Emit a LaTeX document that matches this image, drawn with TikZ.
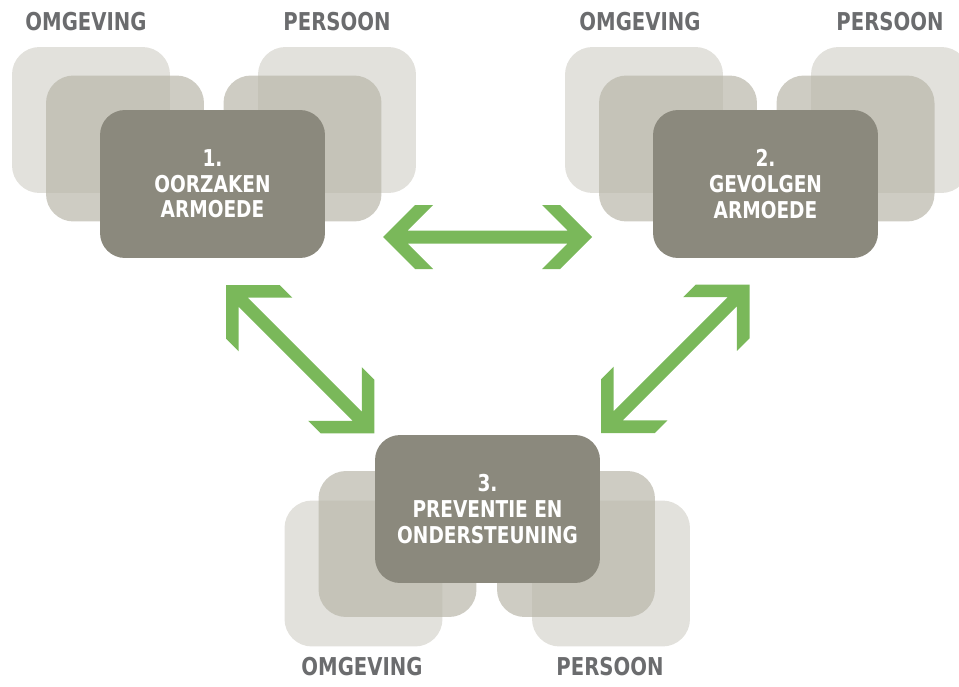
\documentclass[tikz,border=0pt]{standalone}
\usepackage{fontspec}
\newfontfamily\condfont[FakeStretch=0.8]{DejaVu Sans}
\usetikzlibrary{calc, positioning}
\definecolor{paleGray}{HTML}{E2E1DC}
\definecolor{midGray}{HTML}{B9B7AA}
\definecolor{darkGray}{HTML}{8B897D}
\definecolor{labelGray}{HTML}{6B6C6E}
\definecolor{leafGreen}{HTML}{7AB85A}
\tikzset{
  backbox/.style={rectangle, rounded corners=0.55cm, fill=paleGray,
    minimum width=3.16cm, minimum height=2.92cm},
  midbox/.style={backbox, fill=midGray, fill opacity=0.7},
  mainbox/.style={rectangle, rounded corners=0.5cm, fill=darkGray,
    minimum width=4.5cm, minimum height=2.96cm, text=white, align=center,
    font=\condfont\bfseries\fontsize{13.2}{14.6}\selectfont},
  caption/.style={text=labelGray, font=\condfont\bfseries\fontsize{14}{16}\selectfont},
  pics/dblarrow/.style 2 args={code={
    \fill[leafGreen] (0,0) -- (#2,#2) -- ({#2+18},#2) -- (24.5,6.5)
      -- ({#1-24.5},6.5) -- ({#1-#2-18},#2) -- ({#1-#2},#2) -- (#1,0)
      -- ({#1-#2},-#2) -- ({#1-#2-18},-#2) -- ({#1-24.5},-6.5)
      -- (24.5,-6.5) -- ({#2+18},-#2) -- (#2,-#2) -- cycle;
  }}
}

\begin{document}
\begin{tikzpicture}[x=0.02cm, y=-0.02cm]
\useasboundingbox (0,0) rectangle (959,686);
\clip (0,0) rectangle (959,686);

% 1. oorzaken
\node[caption] (omg1) at (86,22) {OMGEVING};
\node[caption] (per1) at (337,22) {PERSOON};
\node[backbox] (b1l) at (91,120) {};
\node[backbox] (b1r) at (337,120) {};
\node[midbox] (m1l) at (125,148.5) {};
\node[midbox] (m1r) at (302.5,148.5) {};
\node[mainbox] (o1) at (212.5,184) {1.\\OORZAKEN\\ARMOEDE};

% 2. gevolgen
\node[caption] (omg2) at (640,22) {OMGEVING};
\node[caption] (per2) at (890,22) {PERSOON};
\node[backbox] (b2l) at (644,120) {};
\node[backbox] (b2r) at (890,120) {};
\node[midbox] (m2l) at (678,148.5) {};
\node[midbox] (m2r) at (855.5,148.5) {};
\node[mainbox] (o2) at (765.5,184) {2.\\GEVOLGEN\\ARMOEDE};

% 3. preventie
\node[caption] (omg3) at (362,667) {OMGEVING};
\node[caption] (per3) at (610,667) {PERSOON};
\node[backbox] (b3l) at (363.5,573.5) {};
\node[backbox] (b3r) at (611,573.5) {};
\node[midbox] (m3l) at (397.5,544) {};
\node[midbox] (m3r) at (576,544) {};
\node[mainbox] (o3) at (487.5,509) {3.\\PREVENTIE EN\\ONDERSTEUNING};

% arrows
\coordinate (a12) at (383,237);
\coordinate (a13) at (226,285);
\coordinate (a32) at (601,433);
\pic[rotate=0] at (a12) {dblarrow={209}{32}};
\pic[rotate=-45] at (a13) {dblarrow={210}{38}};
\pic[rotate=45] at (a32) {dblarrow={210}{38}};
\end{tikzpicture}
\end{document}
